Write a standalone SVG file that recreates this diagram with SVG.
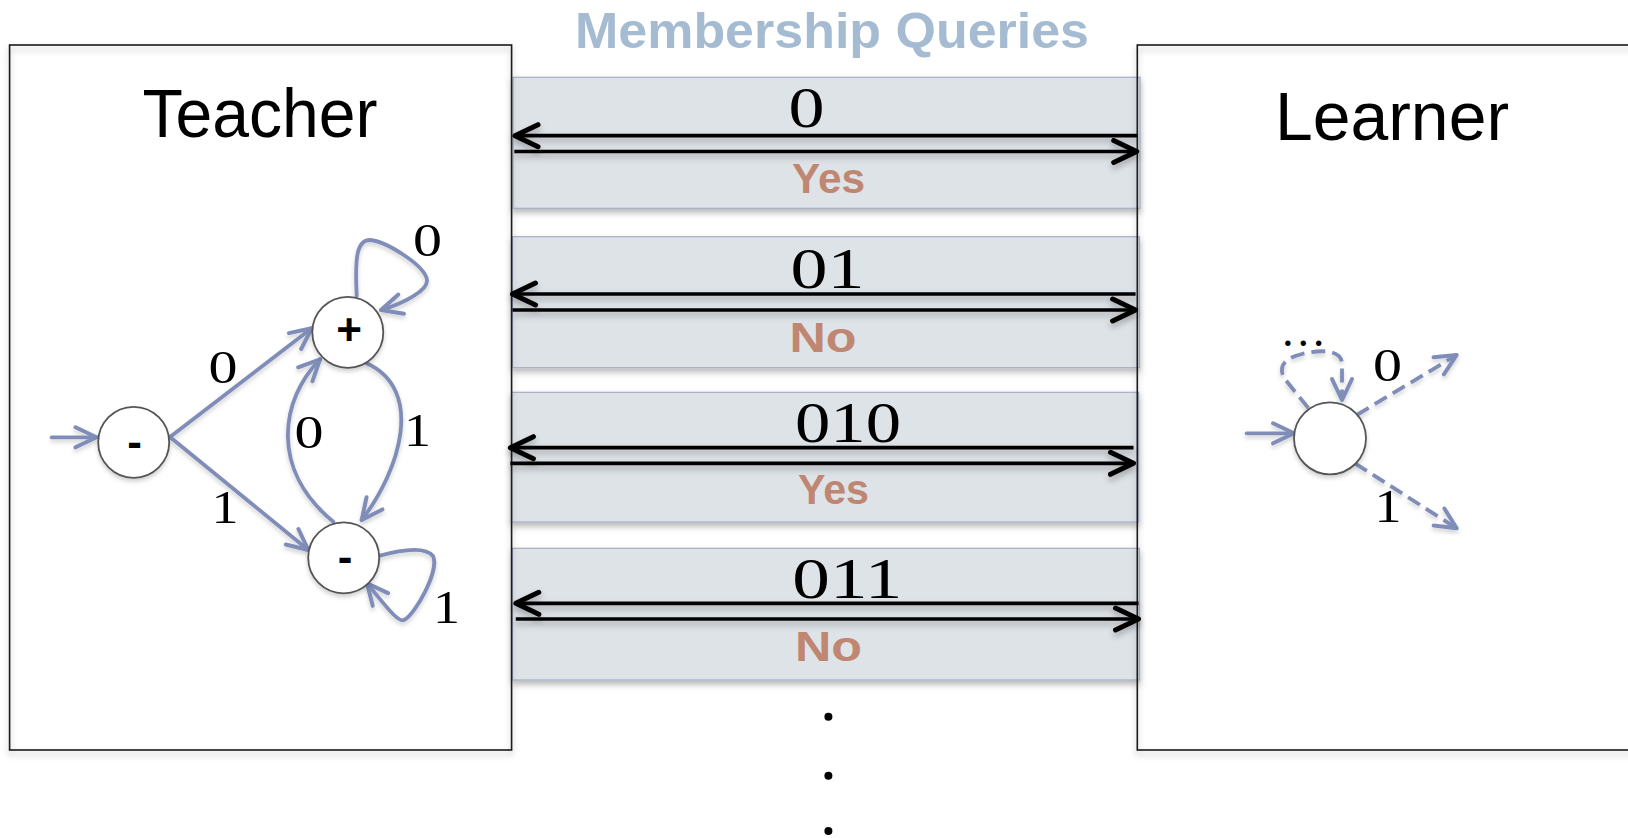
<svg xmlns="http://www.w3.org/2000/svg" width="1628" height="838" viewBox="0 0 1628 838">
  <defs>
    <style>
      .panel { fill: none; stroke: #1a1a1a; stroke-width: 1.6; }
      .band { fill: #dee3e8; stroke: #a6aec8; stroke-width: 1.2; }
      .msg { fill: none; stroke: #000; stroke-width: 3.7; }
      .edge { fill: none; stroke: #7f8db8; stroke-width: 3.8; stroke-linecap: round; }
      .dash { stroke-dasharray: 14 7; stroke-linecap: butt; }
      .state { fill: #fff; stroke: #555; stroke-width: 1.8; }
      .title { font-family: "Liberation Sans", Arial, sans-serif; font-size: 68px; fill: #000; }
      .heading { font-family: "Liberation Sans", Arial, sans-serif; font-weight: bold; font-size: 50px; fill: #a5bbd2; }
      .query { font-family: "Liberation Serif", "Times New Roman", serif; font-size: 57px; fill: #000; }
      .answer { font-family: "Liberation Sans", Arial, sans-serif; font-weight: bold; font-size: 43px; fill: #bf8672; }
      .lbl { font-family: "Liberation Serif", "Times New Roman", serif; font-size: 46px; fill: #000; text-anchor: middle; }
      .sign { font-family: "Liberation Sans", Arial, sans-serif; font-weight: bold; font-size: 44px; fill: #000; text-anchor: middle; }
    </style>
    <filter id="shadow" x="-5%" y="-10%" width="110%" height="130%">
      <feDropShadow dx="0" dy="4" stdDeviation="3" flood-color="#000" flood-opacity="0.28"/>
    </filter>
    <filter id="soft" x="-20%" y="-20%" width="140%" height="150%">
      <feDropShadow dx="0" dy="3" stdDeviation="2" flood-color="#000" flood-opacity="0.18"/>
    </filter>
    <marker id="head-black" viewBox="-3 -3 29 28" refX="23" refY="11" markerWidth="29" markerHeight="28" orient="auto" markerUnits="userSpaceOnUse">
      <path d="M0,0 L23,11 L0,22" fill="none" stroke="#000" stroke-width="5" stroke-linecap="round" stroke-linejoin="round"/>
    </marker>
    <marker id="head-slate" viewBox="-3 -3 27 26" refX="21" refY="10" markerWidth="27" markerHeight="26" orient="auto" markerUnits="userSpaceOnUse">
      <path d="M0,0 L21,10 L0,20" fill="none" stroke="#7f8db8" stroke-width="4" stroke-dasharray="none" stroke-linecap="round" stroke-linejoin="round"/>
    </marker>
  </defs>

  <rect width="1628" height="838" fill="#fff"/>

  <!-- heading -->
  <text class="heading" x="575" y="48.3" textLength="514" lengthAdjust="spacingAndGlyphs">Membership Queries</text>

  <!-- query bands -->
  <g id="bands" filter="url(#shadow)">
    <rect class="band" x="513" y="77.3" width="627" height="131"/>
    <rect class="band" x="512.4" y="236.7" width="627" height="131"/>
    <rect class="band" x="511.6" y="392.3" width="627" height="129.7"/>
    <rect class="band" x="512.4" y="548.3" width="627" height="131.7"/>
  </g>

  <!-- teacher and learner panels -->
  <g id="teacher-panel">
    <rect class="panel" x="9.6" y="45" width="502" height="705" filter="url(#shadow)"/>
    <text class="title" x="142.4" y="137.3" textLength="235" lengthAdjust="spacingAndGlyphs">Teacher</text>
  </g>
  <g id="learner-panel">
    <rect class="panel" x="1137.3" y="45" width="520" height="705" filter="url(#shadow)"/>
    <text class="title" x="1275" y="140" textLength="234" lengthAdjust="spacingAndGlyphs">Learner</text>
  </g>

  <!-- query / answer messages -->
  <g id="connectors">
    <g filter="url(#shadow)">
      <path class="msg" d="M1137.3,135.7 L515,135.7" marker-end="url(#head-black)"/>
      <path class="msg" d="M514.3,151.5 L1136.7,151.5" marker-end="url(#head-black)"/>
      <path class="msg" d="M1135.6,294 L512.5,294" marker-end="url(#head-black)"/>
      <path class="msg" d="M512.5,310 L1135.6,310" marker-end="url(#head-black)"/>
      <path class="msg" d="M1133.5,447.7 L510.4,447.7" marker-end="url(#head-black)"/>
      <path class="msg" d="M510.4,463.3 L1133.5,463.3" marker-end="url(#head-black)"/>
      <path class="msg" d="M1138.5,603.3 L515.8,603.3" marker-end="url(#head-black)"/>
      <path class="msg" d="M515.8,619 L1138.5,619" marker-end="url(#head-black)"/>
    </g>

    <!-- teacher automaton transitions -->
    <g filter="url(#soft)">
      <path class="edge" d="M51.7,437.3 L96.5,437.3" marker-end="url(#head-slate)"/>
      <path class="edge" d="M170,437 L311.7,328.3" marker-end="url(#head-slate)"/>
      <path class="edge" d="M170,437 L308.3,550" marker-end="url(#head-slate)"/>
      <path class="edge" d="M366.7,363.3 C425,390 400,470 361.7,520" marker-end="url(#head-slate)"/>
      <path class="edge" d="M333.3,521.7 C270,470 280,400 320,359.3" marker-end="url(#head-slate)"/>
      <path class="edge" d="M356.7,296 C355,260 356,240 370,240 C385,241 425,265 427,280 C428,290 405,303 381,310" marker-end="url(#head-slate)"/>
      <path class="edge" d="M378.3,556 C400,550 425,546 433,556 C440,570 415,615 404,620 C398,623 385,605 367,583.3" marker-end="url(#head-slate)"/>
    </g>

    <!-- learner hypothesis transitions -->
    <g filter="url(#soft)">
      <path class="edge" d="M1246.7,433.3 L1294,433.3" marker-end="url(#head-slate)"/>
      <path class="edge dash" d="M1308.3,408 L1284,378 C1278,366 1285,358 1302,354 C1322,349 1342,350 1342,364 L1342,400" marker-end="url(#head-slate)"/>
      <path class="edge dash" d="M1356.7,415 L1456.7,355" marker-end="url(#head-slate)"/>
      <path class="edge dash" d="M1355,463.3 L1456.7,528.3" marker-end="url(#head-slate)"/>
    </g>
  </g>

  <!-- query strings and answers -->
  <g id="query-1">
    <text class="query" x="788.5" y="126.7" font-size="52" textLength="36" lengthAdjust="spacingAndGlyphs">0</text>
    <text class="answer" x="792" y="193.3" textLength="73" lengthAdjust="spacingAndGlyphs">Yes</text>
  </g>
  <g id="query-2">
    <text class="query" x="790.5" y="288.3" textLength="74" lengthAdjust="spacingAndGlyphs">01</text>
    <text class="answer" x="789.5" y="351.7" textLength="67" lengthAdjust="spacingAndGlyphs">No</text>
  </g>
  <g id="query-3">
    <text class="query" x="795" y="441.7" textLength="106" lengthAdjust="spacingAndGlyphs">010</text>
    <text class="answer" x="798" y="504" textLength="71" lengthAdjust="spacingAndGlyphs">Yes</text>
  </g>
  <g id="query-4">
    <text class="query" x="792.3" y="598.3" textLength="110" lengthAdjust="spacingAndGlyphs">011</text>
    <text class="answer" x="795" y="660.7" textLength="67" lengthAdjust="spacingAndGlyphs">No</text>
  </g>

  <!-- continuation dots -->
  <g id="more-queries" fill="#000">
    <circle cx="828.4" cy="716.7" r="4"/>
    <circle cx="828.4" cy="775.7" r="4"/>
    <circle cx="828.4" cy="831" r="4"/>
  </g>

  <!-- teacher automaton states -->
  <g id="t-start">
    <circle class="state" cx="133.7" cy="442.3" r="35.5" filter="url(#soft)"/>
    <text class="sign" x="134.7" y="456.5">-</text>
  </g>
  <g id="t-accept">
    <circle class="state" cx="347.8" cy="332.3" r="35.5" filter="url(#soft)"/>
    <text class="sign" x="349" y="345">+</text>
  </g>
  <g id="t-reject">
    <circle class="state" cx="343.7" cy="557.8" r="35.5" filter="url(#soft)"/>
    <text class="sign" x="345" y="571.5">-</text>
  </g>

  <!-- teacher transition labels -->
  <g id="t-labels">
    <text class="lbl" x="223" y="382.7" textLength="29" lengthAdjust="spacingAndGlyphs">0</text>
    <text class="lbl" x="225" y="523.3" textLength="27" lengthAdjust="spacingAndGlyphs">1</text>
    <text class="lbl" x="427.5" y="256" textLength="29" lengthAdjust="spacingAndGlyphs">0</text>
    <text class="lbl" x="417.5" y="445.7" textLength="27" lengthAdjust="spacingAndGlyphs">1</text>
    <text class="lbl" x="309" y="447.7" textLength="29" lengthAdjust="spacingAndGlyphs">0</text>
    <text class="lbl" x="446.5" y="623.3" textLength="27" lengthAdjust="spacingAndGlyphs">1</text>
  </g>

  <!-- learner hypothesis state -->
  <g id="l-state">
    <circle class="state" cx="1330" cy="438.3" r="36" filter="url(#soft)"/>
  </g>
  <g id="l-labels">
    <text class="lbl" x="1303.3" y="345.5" font-size="48">…</text>
    <text class="lbl" x="1387.5" y="381" textLength="29" lengthAdjust="spacingAndGlyphs">0</text>
    <text class="lbl" x="1388" y="521.7" textLength="27" lengthAdjust="spacingAndGlyphs">1</text>
  </g>
</svg>
